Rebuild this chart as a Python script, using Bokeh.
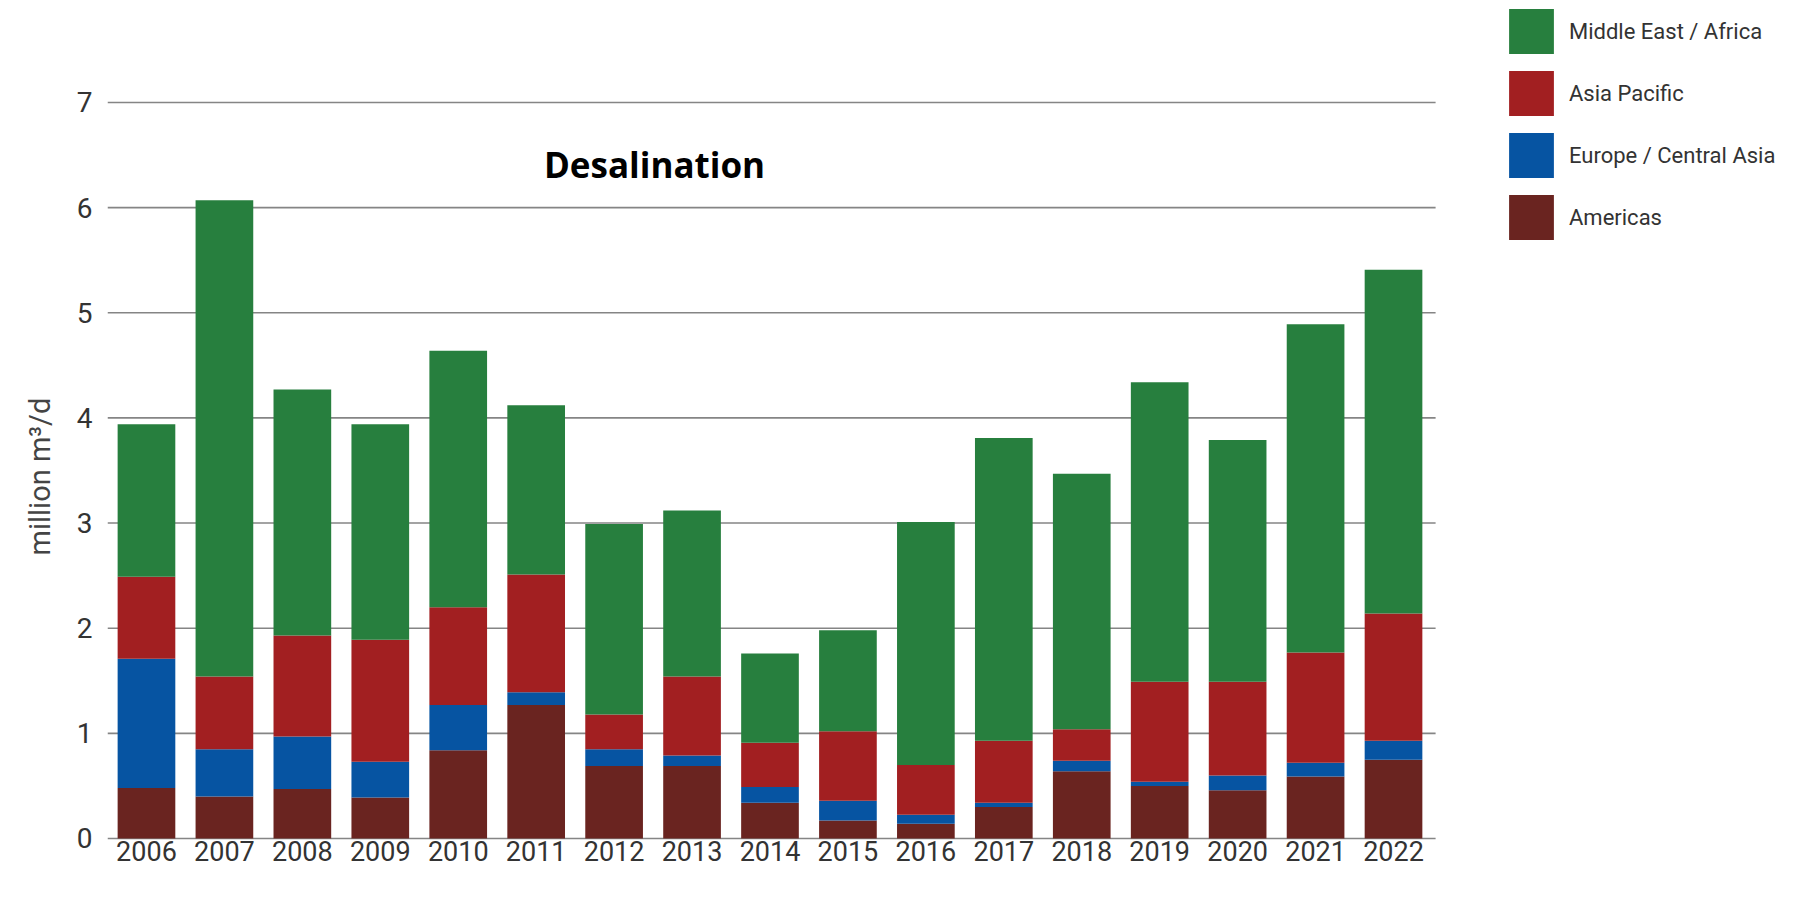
from bokeh.plotting import figure
from bokeh.models import ColumnDataSource, Range1d, FixedTicker, Legend, LegendItem, Label, Title
from bokeh.embed import file_html
from bokeh.resources import INLINE

years = list(range(2006, 2023))
americas = [0.48, 0.40, 0.47, 0.39, 0.84, 1.27, 0.69, 0.69, 0.34, 0.17, 0.14, 0.30, 0.64, 0.50, 0.46, 0.59, 0.75]
europe = [1.23, 0.45, 0.50, 0.34, 0.43, 0.12, 0.16, 0.10, 0.15, 0.19, 0.085, 0.04, 0.10, 0.04, 0.14, 0.13, 0.18]
asia = [0.78, 0.69, 0.96, 1.16, 0.93, 1.12, 0.33, 0.75, 0.42, 0.66, 0.475, 0.59, 0.30, 0.95, 0.89, 1.05, 1.21]
mea = [1.45, 4.53, 2.34, 2.05, 2.44, 1.61, 1.81, 1.58, 0.85, 0.96, 2.31, 2.88, 2.43, 2.85, 2.30, 3.12, 3.27]

series_keys = ["americas", "europe", "asia", "mea"]
series_names = ["Americas", "Europe / Central Asia", "Asia Pacific", "Middle East / Africa"]
colors = ["#6A2420", "#0654A2", "#A21F21", "#277F3E"]
y_ticks = [0, 1, 2, 3, 4, 5, 6, 7]

FONT = "Roboto"
BAR_W = 0.74

source = ColumnDataSource(data=dict(year=years, americas=americas, europe=europe, asia=asia, mea=mea))

p = figure(
    x_range=Range1d(years[0] - 0.5, years[0] - 0.5 + 21.555),
    y_range=Range1d(-0.4375, 7.97),
    width=1787, height=884,
    output_backend="svg", toolbar_location=None, title=None,
    min_border_left=107, min_border_right=0, min_border_top=0, min_border_bottom=0,
)
p.outline_line_color = None
p.background_fill_color = "white"
p.xgrid.grid_line_color = None
p.ygrid.grid_line_color = None

# horizontal gridlines spanning only the bar area (drawn beneath the bars)
grid_src = ColumnDataSource(data=dict(
    x0=[years[0] - 0.5] * len(y_ticks),
    x1=[years[-1] + 0.54] * len(y_ticks),
    y=y_ticks,
))
p.segment(x0="x0", x1="x1", y0="y", y1="y", source=grid_src, line_color="#858585", line_width=1.6)

renderers = p.vbar_stack(series_keys, x="year", width=BAR_W, color=colors, line_color=None, source=source)

p.xaxis.ticker = FixedTicker(ticks=years)
p.xaxis.fixed_location = 0
p.yaxis.ticker = FixedTicker(ticks=y_ticks)

for ax in (p.xaxis[0], p.yaxis[0]):
    ax.axis_line_color = None
    ax.major_tick_line_color = None
    ax.minor_tick_line_color = None
    ax.major_tick_out = 0
    ax.major_tick_in = 0
    ax.major_label_text_color = "#333333"
    ax.major_label_text_font = FONT

p.xaxis.major_label_text_font_size = "27px"
p.xaxis.major_label_standoff = 3
p.yaxis.major_label_text_font_size = "28px"
p.yaxis.major_label_standoff = 15

ylabel = Title(text="million m³/d", align="left", offset=329, standoff=30,
               vertical_align="top",
               text_font=FONT, text_font_style="normal", text_font_size="29px",
               text_color="#444444")
p.add_layout(ylabel, "left")

title = Label(x=547, y=6.41, x_units="screen", y_units="data", text="Desalination",
              text_font="Open Sans", text_font_style="bold", text_font_size="35px",
              text_color="#000000", text_align="center", text_baseline="middle")
p.add_layout(title)

items = [LegendItem(label=series_names[i], renderers=[renderers[i]]) for i in range(3, -1, -1)]
legend = Legend(items=items, location=(1396, 639), orientation="vertical",
                glyph_width=56, glyph_height=56, spacing=6, padding=0, margin=0,
                label_standoff=10, label_text_font=FONT,
                label_text_font_size="22px", label_text_color="#333333",
                border_line_color=None, background_fill_alpha=0)
p.add_layout(legend)

open("out.html", "w").write(file_html(p, INLINE))
